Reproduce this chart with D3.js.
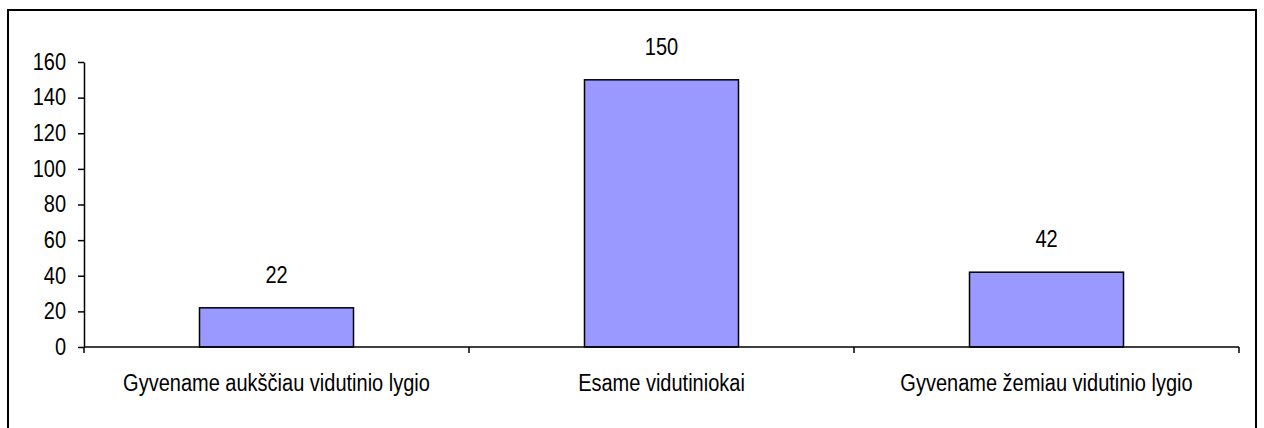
<!DOCTYPE html>
<html>
<head>
<meta charset="utf-8">
<script src="https://cdn.jsdelivr.net/npm/d3@7"></script>
<style>
  body { margin: 0; background: #fff; overflow: hidden; }
  svg { display: block; }
</style>
</head>
<body>
<svg id="chart" width="1264" height="428"></svg>
<script>
const categories = ["Gyvename aukščiau vidutinio lygio", "Esame vidutiniokai", "Gyvename žemiau vidutinio lygio"];
const values = [22, 150, 42];
const yTicks = [0, 20, 40, 60, 80, 100, 120, 140, 160];

const svg = d3.select("#chart");
const font = "Arial, 'Liberation Sans', sans-serif";
const fontSize = 20;
const stretch = "scale(1,1.15)"; // the original text is a bit taller than Arial

// outer frame
svg.append("rect")
    .attr("x", 8).attr("y", 10)
    .attr("width", 1248).attr("height", 430)
    .attr("fill", "none")
    .attr("stroke", "black")
    .attr("stroke-width", 2);

const plotLeft = 84, plotRight = 1239, plotTop = 62, plotBottom = 347;

const x = d3.scaleBand().domain(categories).range([plotLeft, plotRight]).paddingInner(0.6).paddingOuter(0.3);
const xOuter = d3.scaleBand().domain(categories).range([plotLeft, plotRight]);
const y = d3.scaleLinear().domain([0, 160]).range([plotBottom, plotTop]);

// y axis
const yAxis = svg.append("g")
    .attr("transform", "translate(" + plotLeft + ",0)")
    .call(d3.axisLeft(y).tickValues(yTicks).tickSize(6).tickPadding(12).tickSizeOuter(0));
yAxis.select(".domain").attr("stroke-width", 1.5);
yAxis.selectAll(".tick line").attr("stroke-width", 1.5);
yAxis.selectAll("text")
    .attr("font-size", fontSize)
    .attr("font-family", font)
    .attr("fill", "black")
    .attr("transform", stretch);

// bars
svg.selectAll(".bar").data(values)
    .enter().append("rect")
    .attr("class", "bar")
    .attr("x", (d, i) => x(categories[i]))
    .attr("y", d => y(d))
    .attr("width", x.bandwidth())
    .attr("height", d => y(0) - y(d))
    .attr("fill", "#9999ff")
    .attr("stroke", "black")
    .attr("stroke-width", 1.5);

// value labels
svg.selectAll(".val").data(values)
    .enter().append("text")
    .attr("class", "val")
    .attr("transform", (d, i) => "translate(" + (x(categories[i]) + x.bandwidth() / 2) + "," + (y(d) - 25) + ") " + stretch)
    .attr("text-anchor", "middle")
    .attr("font-size", fontSize)
    .attr("font-family", font)
    .text(d => d);

// x axis
const xAxis = svg.append("g")
    .attr("transform", "translate(0," + plotBottom + ")");
xAxis.append("line")
    .attr("x1", plotLeft).attr("x2", plotRight)
    .attr("stroke", "black").attr("stroke-width", 1.5);
const bounds = categories.map(c => xOuter(c)).concat([plotRight]);
xAxis.selectAll(".xt").data(bounds)
    .enter().append("line")
    .attr("x1", d => d).attr("x2", d => d)
    .attr("y1", 0).attr("y2", 6)
    .attr("stroke", "black").attr("stroke-width", 1.5);
xAxis.selectAll(".xl").data(categories)
    .enter().append("text")
    .attr("transform", d => "translate(" + (xOuter(d) + xOuter.bandwidth() / 2) + ",44) " + stretch)
    .attr("text-anchor", "middle")
    .attr("font-size", fontSize)
    .attr("font-family", font)
    .text(d => d);
</script>
</body>
</html>
